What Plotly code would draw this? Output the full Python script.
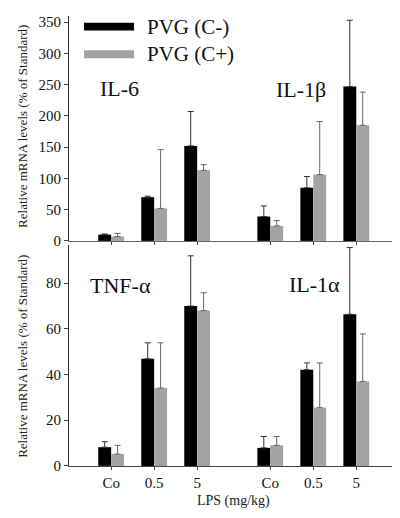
import plotly.graph_objects as go

# ---- data ----
doses = ["Co", "0.5", "5"]
series_names = ["PVG (C-)", "PVG (C+)"]

il6_cm = [10, 70, 152]
il6_cm_err = [1, 1.5, 55]
il6_cp = [7, 52, 113]
il6_cp_err = [5, 94, 9]

il1b_cm = [39, 85, 247]
il1b_cm_err = [17, 18, 106]
il1b_cp = [24, 106, 185]
il1b_cp_err = [8.5, 85, 53]

tnf_cm = [8.2, 46.9, 70]
tnf_cm_err = [2.4, 7, 22]
tnf_cp = [5.2, 34.1, 68]
tnf_cp_err = [3.8, 19.8, 7.8]

il1a_cm = [7.9, 42.1, 66.4]
il1a_cm_err = [5, 3, 29.2]
il1a_cp = [9, 25.5, 37]
il1a_cp_err = [3.9, 19.6, 20.8]

panel_labels_top = ["IL-6", "IL-1β"]
panel_labels_bottom = ["TNF-α", "IL-1α"]
ytitle = "Relative mRNA levels (% of Standard)"
xtitle = "LPS (mg/kg)"

# group positions on the x axis (two blocks of three doses)
pos_left = [0, 1, 2]
pos_right = [3.7, 4.7, 5.7]

BLACK = "#000000"
GRAY = "#a3a3a3"
ERR_BLACK = "#333333"
ERR_GRAY = "#666666"
FONT = "Liberation Serif"
W = 0.3

fig = go.Figure()


def add_pair(xpos, cm, cm_err, cp, cp_err, xa, ya):
    fig.add_trace(go.Bar(
        x=xpos, y=cm, width=W, offset=-W, marker=dict(color=BLACK, line=dict(width=0)),
        error_y=dict(type="data", symmetric=False, array=cm_err, arrayminus=[0] * len(cm),
                     color=ERR_BLACK, thickness=1, width=3),
        xaxis=xa, yaxis=ya, showlegend=False))
    fig.add_trace(go.Bar(
        x=xpos, y=cp, width=W, offset=0, marker=dict(color=GRAY, line=dict(width=0)),
        error_y=dict(type="data", symmetric=False, array=cp_err, arrayminus=[0] * len(cp),
                     color=ERR_GRAY, thickness=1, width=3),
        xaxis=xa, yaxis=ya, showlegend=False))


add_pair(pos_left, il6_cm, il6_cm_err, il6_cp, il6_cp_err, "x", "y")
add_pair(pos_right, il1b_cm, il1b_cm_err, il1b_cp, il1b_cp_err, "x", "y")
add_pair(pos_left, tnf_cm, tnf_cm_err, tnf_cp, tnf_cp_err, "x2", "y2")
add_pair(pos_right, il1a_cm, il1a_cm_err, il1a_cp, il1a_cp_err, "x2", "y2")

H = 518.0
xdom = [61 / 400, 393 / 400]
top_dom = [1 - 236 / H, 1 - 7 / H]
bot_dom = [1 - 465 / H, 1 - 240 / H]
xrange = [-0.98, 6.74]

axis_common = dict(showgrid=False, zeroline=False, showline=True, linewidth=1,
                   ticks="outside", tickcolor="#444", ticklen=3,
                   tickfont=dict(family=FONT, size=15, color="#111"))

fig.update_layout(
    width=400, height=518,
    margin=dict(l=0, r=0, t=0, b=0),
    paper_bgcolor="white", plot_bgcolor="white",
    barmode="overlay", showlegend=False,
    font=dict(family=FONT, color="#111"),
    xaxis=dict(domain=xdom, range=xrange, anchor="y", tickvals=pos_left + pos_right,
               showticklabels=False, linecolor="#666", **{k: v for k, v in axis_common.items() if k != "tickfont"}),
    yaxis=dict(domain=top_dom, range=[0, 360], anchor="x", tickvals=[0, 50, 100, 150, 200, 250, 300, 350],
               linecolor="#333", **axis_common),
    xaxis2=dict(domain=xdom, range=xrange, anchor="y2", tickvals=pos_left + pos_right,
                ticktext=doses + doses, linecolor="#444", **axis_common),
    yaxis2=dict(domain=bot_dom, range=[0, 96.8], anchor="x2", tickvals=[0, 20, 40, 60, 80],
                linecolor="#333", **axis_common),
)
fig.update_yaxes(ticklen=4)

ann = []
# y-axis titles
ann.append(dict(text=ytitle, x=15 / 400, y=1 - 120 / H, xref="paper", yref="paper",
                textangle=-90, showarrow=False, font=dict(family=FONT, size=13, color="#222"),
                xanchor="center", yanchor="middle"))
ann.append(dict(text=ytitle, x=15 / 400, y=1 - 354 / H, xref="paper", yref="paper",
                textangle=-90, showarrow=False, font=dict(family=FONT, size=13, color="#222"),
                xanchor="center", yanchor="middle"))
# x title
ann.append(dict(text=xtitle, x=226 / 400, y=1 - 501 / H, xref="paper", yref="paper",
                showarrow=False, font=dict(family=FONT, size=14, color="#222"),
                xanchor="center", yanchor="middle"))
# panel labels
ann.append(dict(text=panel_labels_top[0], x=111 / 400, y=1 - 81 / H, xref="paper", yref="paper",
                showarrow=False, font=dict(family=FONT, size=22, color="#111"), xanchor="center", yanchor="middle"))
ann.append(dict(text=panel_labels_top[1], x=293 / 400, y=1 - 82 / H, xref="paper", yref="paper",
                showarrow=False, font=dict(family=FONT, size=22, color="#111"), xanchor="center", yanchor="middle"))
ann.append(dict(text=panel_labels_bottom[0], x=112 / 400, y=1 - 281 / H, xref="paper", yref="paper",
                showarrow=False, font=dict(family=FONT, size=22, color="#111"), xanchor="center", yanchor="middle"))
ann.append(dict(text=panel_labels_bottom[1], x=306 / 400, y=1 - 280 / H, xref="paper", yref="paper",
                showarrow=False, font=dict(family=FONT, size=22, color="#111"), xanchor="center", yanchor="middle"))
# legend text
ann.append(dict(text=series_names[0], x=137 / 400, y=1 - 18 / H, xref="paper", yref="paper",
                showarrow=False, font=dict(family=FONT, size=21, color="#111"), xanchor="left", yanchor="middle"))
ann.append(dict(text=series_names[1], x=137 / 400, y=1 - 46 / H, xref="paper", yref="paper",
                showarrow=False, font=dict(family=FONT, size=21, color="#111"), xanchor="left", yanchor="middle"))
fig.update_layout(annotations=ann)

# legend swatches
fig.add_shape(type="rect", xref="paper", yref="paper", x0=76 / 400, x1=126 / 400,
              y0=1 - 22 / H, y1=1 - 14 / H, fillcolor=BLACK, line=dict(width=0))
fig.add_shape(type="rect", xref="paper", yref="paper", x0=76 / 400, x1=126 / 400,
              y0=1 - 50 / H, y1=1 - 42 / H, fillcolor=GRAY, line=dict(width=0))

fig.write_html("out.html")
